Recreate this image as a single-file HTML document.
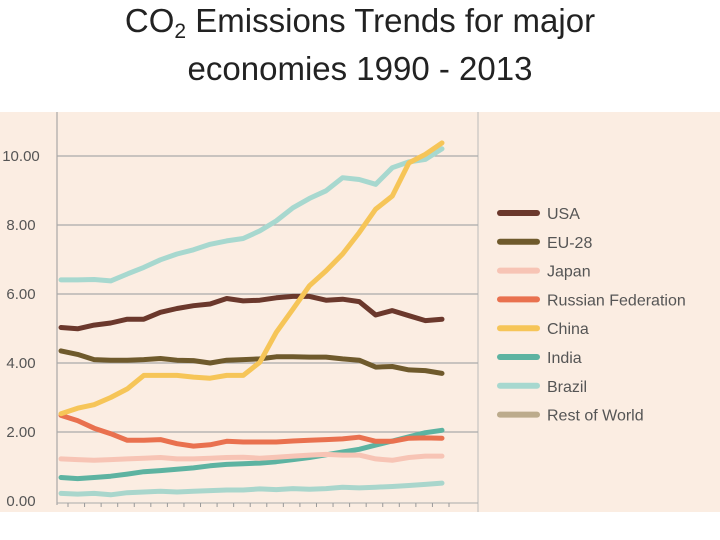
<!DOCTYPE html>
<html><head><meta charset="utf-8"><style>
body{margin:0;width:720px;height:540px;background:#fff;overflow:hidden;font-family:"Liberation Sans",sans-serif}
#title{position:absolute;left:0;top:-3px;width:720px;text-align:center;font-size:33px;line-height:48px;color:#222}
#title sub{font-size:21px;line-height:0;vertical-align:-6px}
</style></head><body>
<div id="title">CO<sub>2</sub> Emissions Trends for major<br>economies 1990 - 2013</div>
<svg id="chart" width="720" height="540" style="position:absolute;left:0;top:0"></svg>
<script>
const years=[];for(let y=1990;y<=2013;y++)years.push(y);
const yTicks=[0,2,4,6,8,10];
const yTickLabels=["0.00","2.00","4.00","6.00","8.00","10.00"];
const usa=[5.03,4.99,5.1,5.16,5.27,5.27,5.47,5.58,5.66,5.71,5.87,5.8,5.82,5.89,5.93,5.93,5.82,5.85,5.78,5.39,5.52,5.37,5.23,5.27];
const eu=[4.35,4.25,4.1,4.08,4.08,4.1,4.13,4.08,4.07,4.0,4.08,4.1,4.12,4.18,4.18,4.17,4.17,4.12,4.08,3.88,3.9,3.8,3.78,3.7];
const japan=[1.22,1.2,1.18,1.2,1.22,1.24,1.26,1.22,1.22,1.24,1.26,1.27,1.24,1.27,1.3,1.33,1.35,1.33,1.33,1.22,1.18,1.26,1.3,1.3];
const russia=[2.48,2.33,2.11,1.95,1.76,1.76,1.78,1.66,1.59,1.63,1.73,1.71,1.71,1.71,1.74,1.76,1.78,1.8,1.85,1.73,1.73,1.82,1.83,1.82];
const china=[2.53,2.69,2.79,3.0,3.25,3.64,3.64,3.64,3.59,3.56,3.64,3.64,4.02,4.89,5.56,6.24,6.67,7.16,7.78,8.46,8.84,9.8,10.05,10.38];
const india=[0.68,0.65,0.68,0.72,0.78,0.85,0.88,0.92,0.96,1.02,1.06,1.08,1.1,1.14,1.2,1.26,1.34,1.42,1.5,1.62,1.74,1.86,1.98,2.05];
const brazil=[6.41,6.41,6.42,6.38,6.58,6.77,6.99,7.16,7.28,7.44,7.54,7.61,7.83,8.12,8.5,8.77,8.99,9.37,9.32,9.18,9.66,9.83,9.9,10.21];
const row=[0.22,0.2,0.22,0.18,0.24,0.26,0.28,0.26,0.28,0.3,0.32,0.32,0.35,0.33,0.36,0.34,0.36,0.4,0.38,0.4,0.42,0.45,0.48,0.52];
const seriesNames=["USA","EU-28","Japan","Russian Federation","China","India","Brazil","Rest of World"];
const seriesColors=["#6b382c","#6f5a2c","#f7c4b5","#e9714f","#f6c558","#5db3a1","#a7d8cf","#bcab8c"];
const lineColors=["#6b382c","#6f5a2c","#f7c4b5","#e9714f","#f6c558","#5db3a1","#a7d8cf","#a9d6cc"];
const seriesData=[usa,eu,japan,russia,china,india,brazil,row];
const drawOrder=[6,7,5,2,3,1,0,4];
const NS="http://www.w3.org/2000/svg",svg=document.getElementById('chart');
const X=y=>61+(y-1990)*(381/23);
const Y=v=>501-v*34.5;
function el(t,a,p){const e=document.createElementNS(NS,t);for(const k in a)e.setAttribute(k,a[k]);(p||svg).appendChild(e);return e;}
const bg=el('rect',{x:0,y:112,width:720,height:400,fill:'#fbede2'});


const ax=el('line',{x1:57,y1:112,x2:57,y2:505,stroke:'#999','stroke-width':1});


const sep=el('line',{x1:478,y1:112,x2:478,y2:512,stroke:'#bbb','stroke-width':1});


yTicks.forEach((t,i)=>{
 if(t>0){const g=el('line',{x1:57,y1:Y(t),x2:478,y2:Y(t),stroke:'#aaa','stroke-width':1.2});
 
 }
 const tx=el('text',{x:21,y:Y(t)+5,'text-anchor':'middle','font-size':15,fill:'#555'});
 tx.textContent=yTickLabels[i];
 
 
});
const xa=el('line',{x1:57,y1:503,x2:478,y2:503,stroke:'#aaa','stroke-width':1});


years.forEach(y=>{const tk=el('line',{x1:X(y)+7,y1:503,x2:X(y)+7,y2:507,stroke:'#999'});
 
 });
drawOrder.forEach(i=>{
 const d=seriesData[i].map((v,j)=>(j?'L':'M')+X(years[j]).toFixed(1)+','+Y(v).toFixed(1)).join('');
 const p=el('path',{d:d,fill:'none',stroke:lineColors[i],'stroke-width':5,'stroke-linejoin':'round','stroke-linecap':'round'});
 
 
});
seriesNames.forEach((n,i)=>{
 const y=213+i*28.8;
 const s=el('line',{x1:500,y1:y,x2:537,y2:y,stroke:seriesColors[i],'stroke-width':6,'stroke-linecap':'round'});
 
 
 const t=el('text',{x:547,y:y+6,'font-size':16,fill:'#555'});
 t.textContent=n;
 
 
});
</script>
</body></html>
